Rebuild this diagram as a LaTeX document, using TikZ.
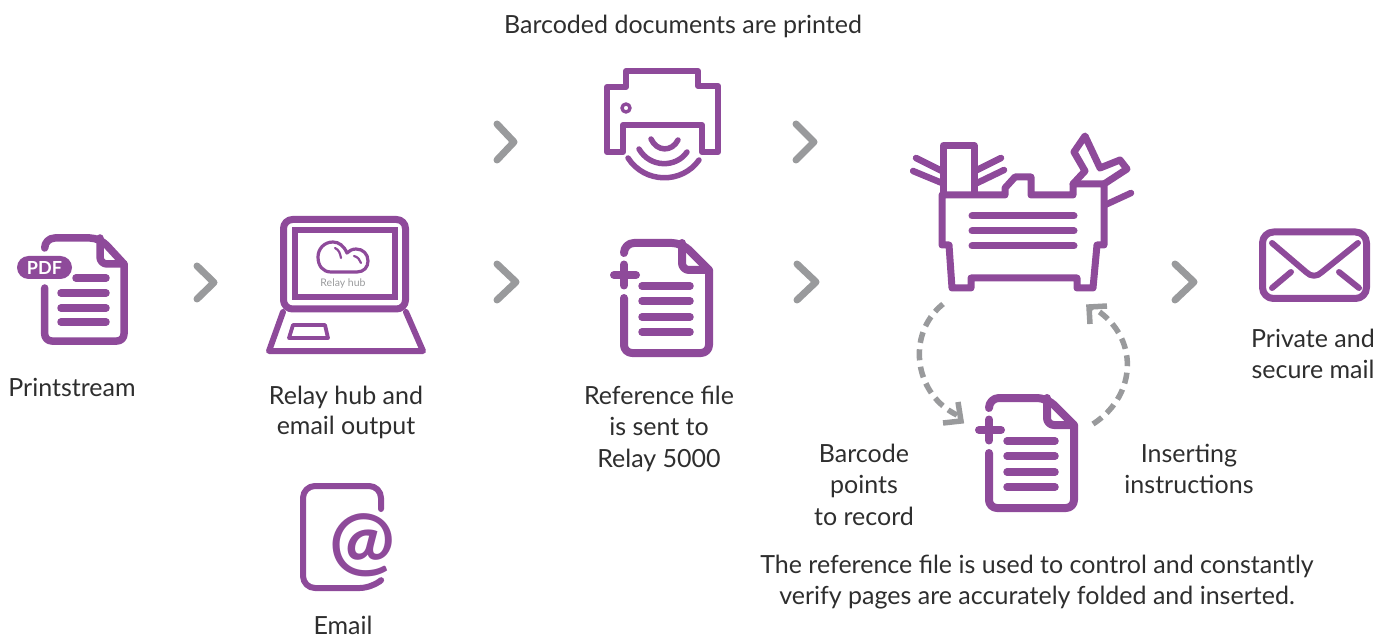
\documentclass[tikz,border=0pt]{standalone}
\usepackage{fontspec}
\setmainfont{Lato}
\definecolor{relaypurple}{HTML}{8E4A9A}
\definecolor{relaygray}{HTML}{999A9C}
\tikzset{
  x=1pt,y=-1pt,
  icon/.style={draw=relaypurple,line width=#1,line cap=round,line join=round,rounded corners=0},
  icon/.default=6,
  chev/.style={draw=relaygray,line width=7,line cap=round,line join=round},
  dashloop/.style={draw=relaygray,line width=5.5,dash pattern=on 11 off 6.5},
  dashhead/.style={draw=relaygray,line width=5.5,line cap=butt,line join=miter},
  lbl/.style={anchor=north,align=center,inner sep=0,font=\fontsize{25}{31.6}\selectfont,text=black!82},
}
\newcommand{\docbody}{%
  \draw[icon=8] (0,10) [rounded corners=10] -- (0,0) -- (58,0) [rounded corners=0] -- (85,27) [rounded corners=8] -- (85,110) -- (0,110) [rounded corners=0] -- (0,55);
  \draw[icon=8] (58,0) [rounded corners=7] -- (58,27) -- (85,27);
}
\newcommand{\docplus}{%
  \docbody
  \draw[icon=8] (-10,32) -- (12,32) (0,21.5) -- (0,42.5);
  \foreach \yy in {43,58,74,89} \draw[icon=7.5] (18,\yy) -- (66,\yy);
}
\begin{document}
\begin{tikzpicture}
\useasboundingbox (0,0) rectangle (1392,636);
% PDF document
\draw[icon=7.5] (44.7,248) [rounded corners=10] -- (44.7,238) -- (100,238) [rounded corners=0] -- (124,264) [rounded corners=7] -- (124,341) -- (44.7,341) [rounded corners=0] -- (44.7,288);
\draw[icon=7.5] (100,238) [rounded corners=7] -- (100,264) -- (124,264);
\draw[icon=7.5] (76,278) -- (106,278) (61,293) -- (106,293) (61,308) -- (106,308) (61,322) -- (106,322);
\node[name=pdfpill,fill=relaypurple,rounded corners=11.5,minimum width=55,minimum height=23,inner sep=0,text=white,font=\fontsize{18}{18}\selectfont\bfseries] at (44.5,267.5) {PDF};
% laptop
\draw[icon=7,rounded corners=9] (283.5,219.5) rectangle (405.5,309);
\draw[draw=relaypurple,line width=6] (295,230) rectangle (394.5,297);
\draw[icon=6] (283,312) -- (269,351) -- (423,351) -- (406,312);
\draw[icon=3.8] (293,325) -- (325,325) -- (328,338) -- (289,338) -- cycle;
\draw[icon=3.2] (331,272) -- (357,272) .. controls (364,272) and (368,267) .. (368,261) .. controls (368,254) and (363,249) .. (356,249) .. controls (352,249) and (349,251) .. (347,253) .. controls (344,246) and (339,242) .. (333,242) .. controls (324,242) and (318,249) .. (318,257) .. controls (318,266) and (323,272) .. (331,272) -- cycle;
\draw[icon=2.2] (335,248) .. controls (339,250) and (340,253) .. (341,258);
\draw[icon=2.2] (354,256) .. controls (358,257) and (360,260) .. (361,263);
\node[name=hubtext,inner sep=0,text=relaygray,font=\fontsize{10.5}{10.5}\selectfont] at (343,283.5) {Relay hub};
% email icon
\draw[icon=6] (381,509) [rounded corners=12] -- (381,486) -- (303,486) -- (303,588) -- (372,588) [rounded corners=0] -- (379,582);
\node[name=atsign,inner sep=0,text=relaypurple,font=\fontsize{78}{78}\selectfont\bfseries] at (362,545) {@};
% printer
\draw[icon=6] (623,152) -- (607,152) -- (607,87) -- (626,87) -- (626,71) -- (698,71) -- (698,86) -- (718,86) -- (718,152) -- (702,152) -- (702,125) -- (623,125) -- cycle;
\draw[icon=3.4] (626,108) circle[radius=4];
\draw[icon=5.5] (651,139) .. controls (657,152) and (672,152) .. (678,140);
\draw[icon=5.5] (639,149) .. controls (650,168) and (676,168) .. (687,152);
\draw[icon=5.5] (628,158) .. controls (645,184) and (682,184) .. (699,160);
% documents
\begin{scope}[shift={(624,243)}]\docplus\end{scope}
\begin{scope}[shift={(989,398)}]\docplus\end{scope}
% sorter
\draw[icon=7] (942,195) -- (942,245) -- (949,245) -- (952,288) -- (971,288) -- (971,278) -- (1077,278) -- (1077,288) -- (1093,288) -- (1097,245) -- (1104,245) -- (1104,184) -- (1073,184) -- (1073,195) -- (1031,195) -- (1031,177) -- (1015,177) -- (1005,188) -- (1005,195) -- cycle;
\draw[icon=7] (943.5,193) -- (943.5,145.5) -- (974,145.5) -- (974,193);
\draw[icon=6.5] (916,158) -- (942,171) (913,171) -- (942,183) (975,171) -- (1001,158) (975,184) -- (1004,170) (1105,205) -- (1131,193);
\draw[icon=7] (1073,184) -- (1085,171) -- (1074,152) -- (1085,136) -- (1100,168) -- (1120,160) -- (1127,169) -- (1104,184);
\foreach \yy in {216,231,246} \draw[icon=7] (972,\yy) -- (1074,\yy);
% envelope
\draw[icon=7,rounded corners=11] (1262.5,232) rectangle (1366.5,298.5);
\draw[icon=6] (1272,243) -- (1306,272) .. controls (1311,277) and (1317,277) .. (1322,272) -- (1358,243);
\draw[icon=6] (1272,288) -- (1291,272) (1339,272) -- (1359,288);
% chevrons
\draw[chev] (197,266) -- (214,282.5) -- (197,299);
\draw[chev] (497,124) -- (514,142) -- (497,160);
\draw[chev] (497,264) -- (516,282) -- (497,300);
\draw[chev] (796,124) -- (814,142) -- (796,160);
\draw[chev] (797,264) -- (816,282) -- (797,300);
\draw[chev] (1175,264) -- (1194,282) -- (1175,300);
% dashed loop
\coordinate (loopA) at (943,304);
\coordinate (loopB) at (957,415);
\coordinate (loopC) at (1093,424);
\coordinate (loopD) at (1092,307);
\draw[dashloop] (loopA) .. controls (905,335) and (915,395) .. (loopB);
\draw[dashloop] (loopC) .. controls (1138,395) and (1140,335) .. (loopD);
\draw[dashhead] (958,402) -- (961,421) -- (943,423);
\draw[dashhead] (1090,324) -- (1089,307) -- (1107,306);
% labels
\node[lbl,name=tbarcoded] at (683,14.5) {Barcoded documents are printed};
\node[lbl,name=tprint] at (72,378) {Printstream};
\node[lbl,name=thub] at (346,385.5) {Relay hub and\\[-1.6pt]email output};
\node[lbl,name=tref] at (659,385.5) {Reference file\\is sent to\\Relay 5000};
\node[lbl,name=tpoints] at (864,443.5) {Barcode\\points\\to record};
\node[lbl,name=tinsert] at (1189,443.5) {Inserting\\instructions};
\node[lbl,name=tmail] at (1313,328.5) {Private and\\secure mail};
\node[lbl,name=tcontrol] at (1037,554.5) {The reference file is used to control and constantly\\verify pages are accurately folded and inserted.};
\node[lbl,name=temail] at (343,615.5) {Email};
\end{tikzpicture}
\end{document}
